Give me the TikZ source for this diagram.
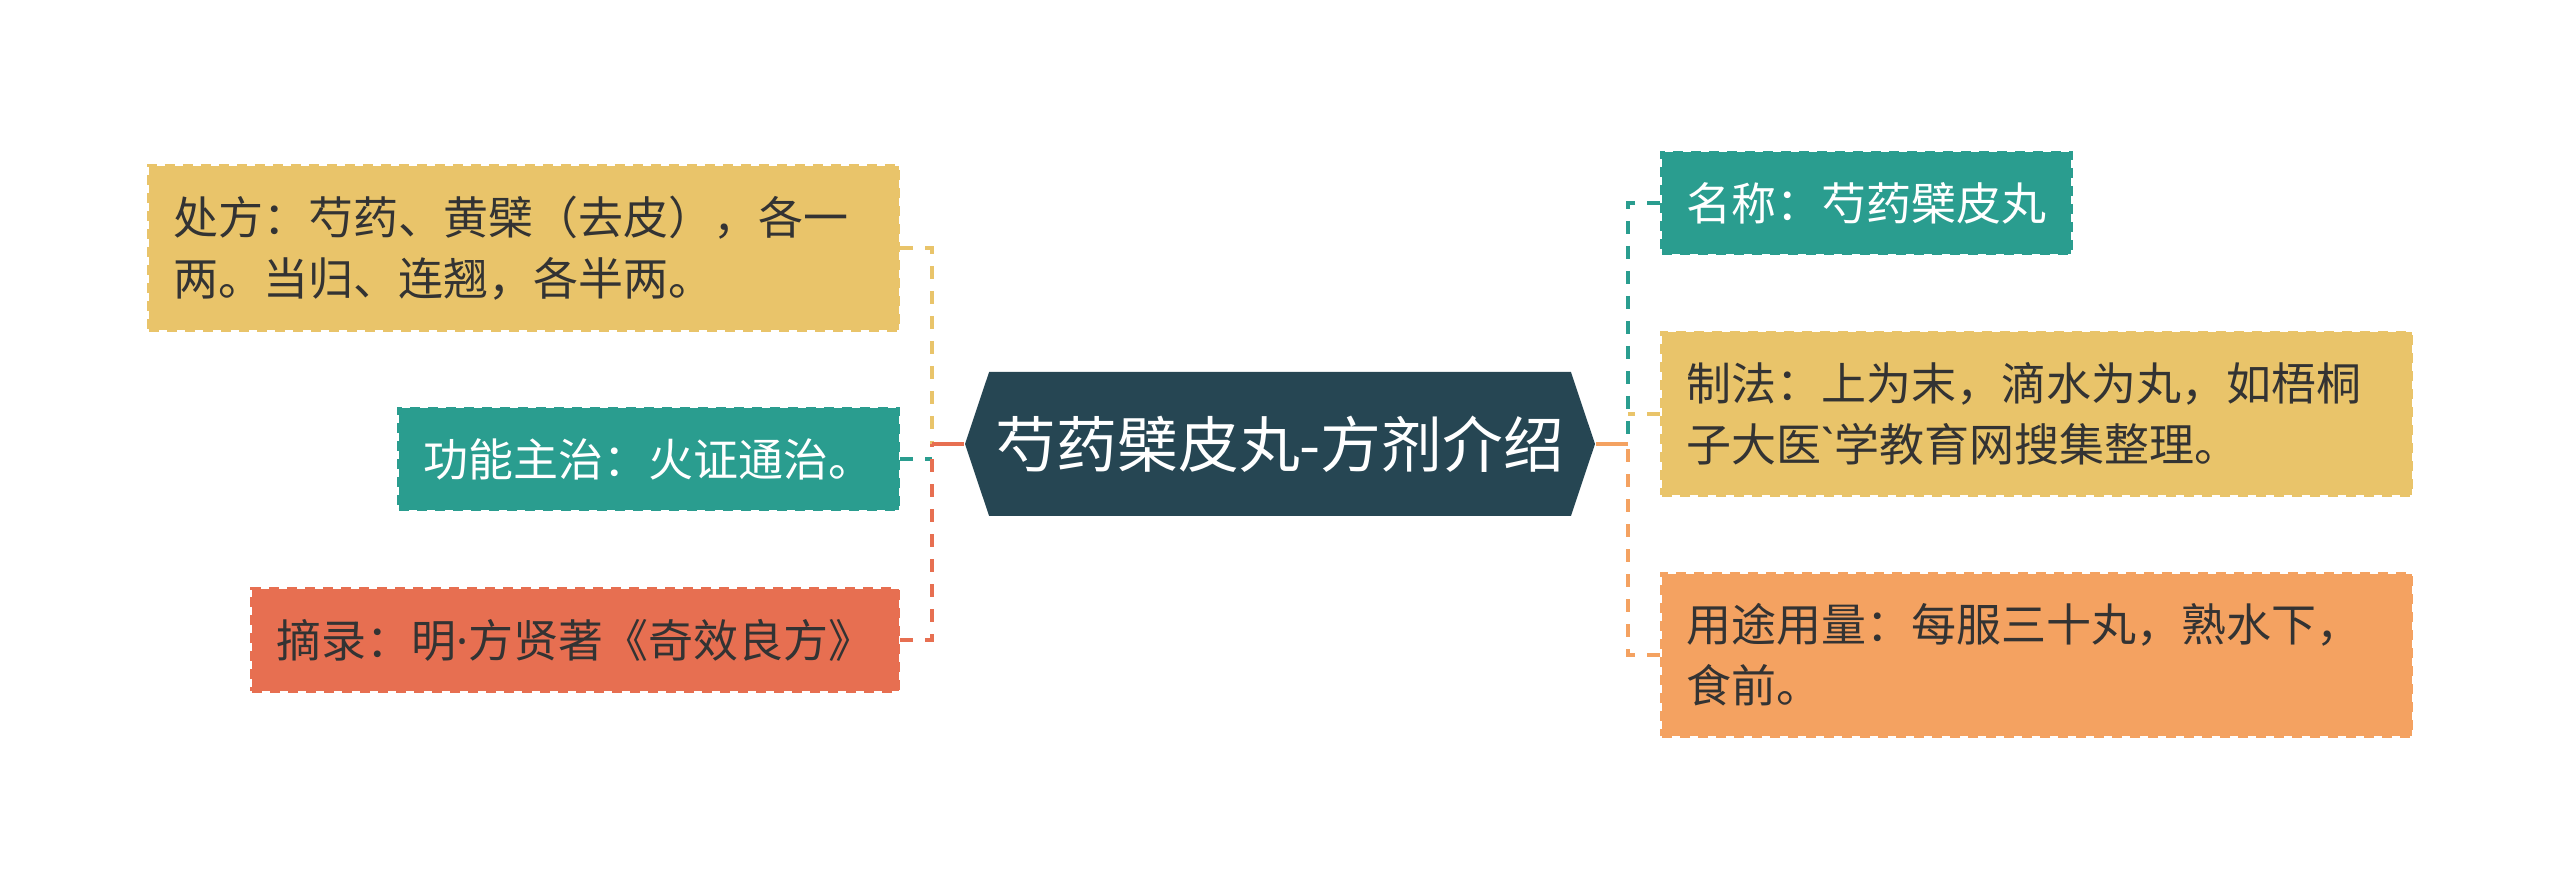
\documentclass[tikz,border=0pt]{standalone}
\usepackage{fontspec}
\setmainfont{Noto Sans CJK SC}[Ligatures=TeXOff]
\newfontfamily\latinfont{Noto Sans}[Ligatures=TeXOff]
\usepackage{xcolor}
\usepackage{tikz}
\usetikzlibrary{shapes.symbols}
\definecolor{slate}{HTML}{264653}
\definecolor{mteal}{HTML}{2A9D8F}
\definecolor{mgold}{HTML}{E9C46A}
\definecolor{morange}{HTML}{F4A261}
\definecolor{mred}{HTML}{E76F51}
\definecolor{mtext}{HTML}{333333}

\begin{document}
\begin{tikzpicture}[
  leaf/.style={draw=#1, fill=#1, dash pattern=on 0.1cm off 0.08cm, line width=0.03cm,
    inner xsep=0.25cm, inner ysep=0.3cm, text=mtext, align=left,
    font=\fontsize{12.8}{17.4}\selectfont},
  link/.style={draw=#1, line width=0.038cm, dash pattern=on 0.13cm off 0.12cm},
  trunk/.style={draw=#1, line width=0.045cm}
]
\useasboundingbox (0,0) rectangle (25.6,8.9);

% --- Central topic ---
\node[signal, signal to=east and west, signal pointer angle=143, fill=slate,
  minimum width=6.3cm, minimum height=1.44cm, inner sep=0pt, text=white,
  font=\fontsize{17.3}{20}\selectfont] (title) at (12.80,4.46) {芍药檗皮丸-方剂介绍};

% --- Left side ---
\node[leaf=mgold, anchor=east, text width=7.0cm] (chufang) at (9.0,6.42)
  {处方：芍药、黄檗（去皮），各一\\两。当归、连翘，各半两。};
\node[leaf=mteal, text=white, anchor=east] (gongneng) at (9.0,4.31) {功能主治：火证通治。};
\node[leaf=mred, anchor=east] (zhailu) at (9.0,2.50) {摘录：明{\latinfont ·}方贤著《奇效良方》};

% --- Right side ---
\node[leaf=mteal, text=white, anchor=west] (mingcheng) at (16.6,6.87) {名称：芍药檗皮丸};
\node[leaf=mgold, anchor=west, text width=7.0cm] (zhifa) at (16.6,4.76)
  {制法：上为末，滴水为丸，如梧桐\\子大医{\latinfont `}学教育网搜集整理。};
\node[leaf=morange, anchor=west, text width=7.0cm] (yongtu) at (16.6,2.35)
  {用途用量：每服三十丸，熟水下，\\食前。};

% junctions
\coordinate (ljoin) at (9.32,4.46);
\coordinate (rjoin) at (16.28,4.46);

% connectors
\draw[link=mgold] (chufang.east) -| (ljoin);
\draw[link=mteal] (gongneng.east) -- (gongneng.east -| ljoin);
\draw[link=mred] (zhailu.east) -| (ljoin);
\draw[trunk=mred] (ljoin) -- (title.west);

\draw[link=mteal] (mingcheng.west) -| (rjoin);
\draw[link=mgold] (zhifa.west) -- (zhifa.west -| rjoin);
\draw[link=morange] (yongtu.west) -| (rjoin);
\draw[trunk=morange] (title.east) -- (rjoin);
\end{tikzpicture}
\end{document}
